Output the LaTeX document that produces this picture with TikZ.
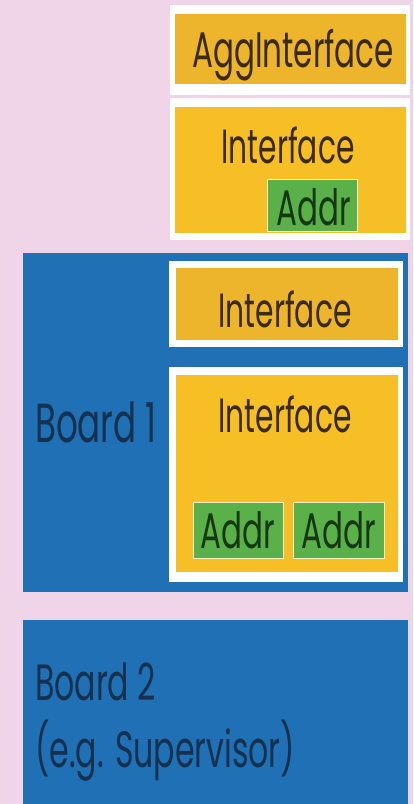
\documentclass[tikz,border=0pt]{standalone}
\usepackage{fontspec}
\setmainfont{Poppins}[FakeStretch=0.62]
\usetikzlibrary{positioning}

\definecolor{bgpink}{HTML}{F0D5E8}
\definecolor{boardblue}{HTML}{1F70B4}
\definecolor{ifyellow}{HTML}{F6BF26}
\definecolor{ifdark}{HTML}{EDB52B}
\definecolor{addrgreen}{HTML}{5AB14A}
\definecolor{addredge}{HTML}{F4F1C8}
\definecolor{iftext}{HTML}{3A2A12}
\definecolor{boardtext}{HTML}{16304F}
\definecolor{addrtext}{HTML}{153812}

\begin{document}
\begin{tikzpicture}[x=1pt, y=-1pt,
    area/.style={inner sep=0pt, outer sep=0pt, anchor=north west},
    frame/.style={area, fill=white},
    ifbox/.style={area, fill=ifyellow},
    board/.style={area, fill=boardblue},
    addrbox/.style={area, fill=addrgreen, draw=addredge, line width=1pt,
                    minimum width=90pt, minimum height=56pt},
    iflabel/.style={anchor=base, inner sep=0pt, text=iftext, font=\fontsize{48}{50}\selectfont},
    addrlabel/.style={anchor=base, inner sep=0pt, text=addrtext, font=\fontsize{50}{52}\selectfont},
    boardlabel/.style={anchor=base west, inner sep=0pt, text=boardtext, font=\fontsize{55}{60}\selectfont}
  ]
  \fill[bgpink] (0,0) rectangle (413,804);
  \useasboundingbox (0,0) rectangle (413,804);

  % free interfaces on top
  \node[frame, minimum width=240pt, minimum height=90pt] (aggframe) at (170,5) {};
  \node[ifbox, fill=ifdark, minimum width=231pt, minimum height=70pt] (agg) at (175,14) {};
  \node[iflabel, font=\fontsize{50}{52}\selectfont] (aggtxt) at (293,67) {AggInterface};

  \node[frame, minimum width=240pt, minimum height=142pt] (topframe) at (170,98) {};
  \node[ifbox, minimum width=231pt, minimum height=126pt] (topif) at (175,107) {};
  \node[iflabel] (toptxt) at (288,163) {Interface};
  \node[addrbox, minimum height=52pt] (topaddr) at (267,179) {};
  \node[addrlabel] (topaddrtxt) at (314,225) {Addr};

  % board 1
  \node[board, minimum width=385pt, minimum height=339pt] (board1) at (23,253) {};
  \node[boardlabel] (b1txt) at (35,442) {Board 1};

  \node[frame, minimum width=234pt, minimum height=86pt] (b1frame) at (169,261) {};
  \node[ifbox, fill=ifdark, minimum width=222pt, minimum height=72pt] (b1if) at (176,268) {};
  \node[iflabel] (b1iftxt) at (285,327) {Interface};

  \node[frame, minimum width=234pt, minimum height=215pt] (b1frameb) at (169,367) {};
  \node[ifbox, minimum width=222pt, minimum height=197pt] (b1ifb) at (176,375) {};
  \node[iflabel] (b1ifbtxt) at (285,432) {Interface};
  \node[addrbox] (b1addra) at (193,502) {};
  \node[addrbox, minimum width=91pt] (b1addrb) at (293,502) {};
  \node[addrlabel] (b1addratxt) at (238,548) {Addr};
  \node[addrlabel] (b1addrbtxt) at (339,548) {Addr};

  % board 2
  \node[board, minimum width=385pt, minimum height=184pt] (board2) at (23,620) {};
  \node[boardlabel, font=\fontsize{51}{55}\selectfont] (b2txt) at (35,700) {Board 2};
  \node[boardlabel, font=\fontsize{51}{55}\selectfont] (b2note) at (35,767) {(e.g. Supervisor)};
\end{tikzpicture}
\end{document}
